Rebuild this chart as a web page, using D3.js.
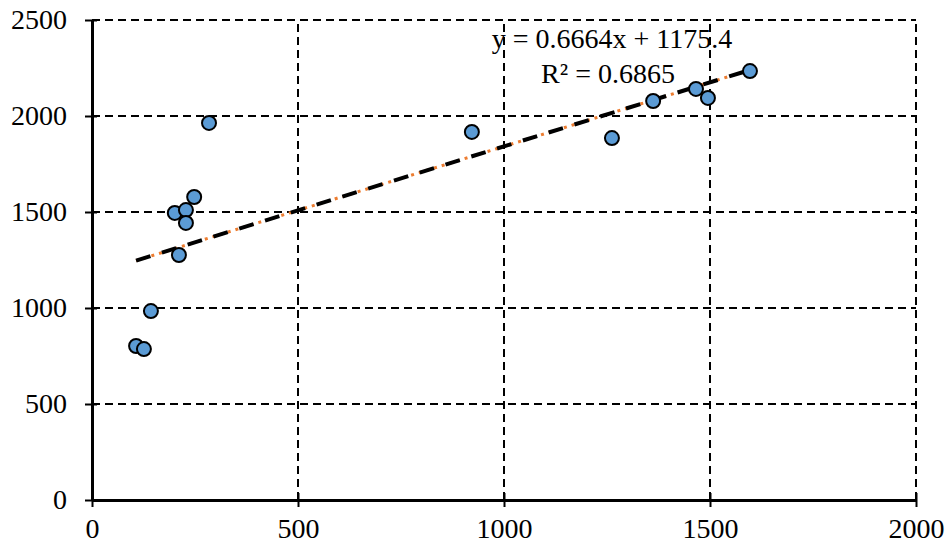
<!DOCTYPE html>
<html><head><meta charset="utf-8">
<script src="https://cdn.jsdelivr.net/npm/d3@7"></script>
<style>body{margin:0;background:#fff}svg{display:block}</style>
</head><body>
<svg id="chart" width="949" height="551"></svg>
<script>
const xValues = [107, 126, 143, 201, 211, 228, 228, 248, 284, 922, 1262, 1362, 1466, 1495, 1597];
const yValues = [802, 786, 984, 1495, 1276, 1510, 1443, 1578, 1964, 1917, 1885, 2078, 2141, 2094, 2234];
const xTicks = [0, 500, 1000, 1500, 2000];
const yTicks = [0, 500, 1000, 1500, 2000, 2500];
const slope = 0.6664, intercept = 1175.4;
const eqLabel = "y = 0.6664x + 1175.4";
const r2Label = "R² = 0.6865";

const svg = d3.select("#chart");
const font = "'Liberation Serif','Times New Roman',serif";
const x = d3.scaleLinear().domain([0, 2000]).range([92, 916]);
const y = d3.scaleLinear().domain([0, 2500]).range([500, 20]);

// grid
svg.append("g").selectAll("line").data(yTicks.filter(d => d > 0)).join("line")
  .attr("x1", x(0)).attr("x2", x(2000)).attr("y1", d => y(d)).attr("y2", d => y(d))
  .attr("stroke", "#000").attr("stroke-width", 2).attr("stroke-dasharray", "8,5");
svg.append("g").selectAll("line").data(xTicks.filter(d => d > 0)).join("line")
  .attr("y1", y(0)).attr("y2", y(2500)).attr("x1", d => x(d)).attr("x2", d => x(d))
  .attr("stroke", "#000").attr("stroke-width", 2).attr("stroke-dasharray", "8,5");

// axes
const fmt = d3.format("d");
const xAxis = svg.append("g").attr("transform", `translate(0,${y(0)})`)
  .call(d3.axisBottom(x).tickValues(xTicks).tickFormat(fmt).tickSize(0).tickPadding(18));
const yAxis = svg.append("g").attr("transform", `translate(${x(0)},0)`)
  .call(d3.axisLeft(y).tickValues(yTicks).tickFormat(fmt).tickSize(0).tickPadding(25));
[xAxis, yAxis].forEach(a => {
  a.select(".domain").attr("stroke", "#000").attr("stroke-width", 3);
  a.selectAll("text").attr("font-family", font).attr("font-size", 28).attr("fill", "#000");
});
xAxis.selectAll(".tick").append("line").attr("y1", -7).attr("y2", 7).attr("stroke", "#000").attr("stroke-width", 2);
yAxis.selectAll(".tick").append("line").attr("x1", -7).attr("x2", 5).attr("stroke", "#000").attr("stroke-width", 2);
xAxis.selectAll(".tick text").attr("dy", "0.71em");

// trendline
const xMin = d3.min(xValues), xMax = d3.max(xValues);
const trend = [xMin, xMax].map(v => [x(v), y(slope * v + intercept)]);
svg.append("path").attr("d", d3.line()(trend)).attr("stroke", "#ED7D31").attr("stroke-width", 3)
  .attr("stroke-dasharray", "3,5").attr("fill", "none");
svg.append("path").attr("d", d3.line()(trend)).attr("stroke", "#000").attr("stroke-width", 4)
  .attr("stroke-dasharray", "15,12").attr("fill", "none");

// points
svg.append("g").selectAll("circle").data(xValues.map((v, i) => [v, yValues[i]])).join("circle")
  .attr("cx", d => x(d[0])).attr("cy", d => y(d[1])).attr("r", 7)
  .attr("fill", "#5B9BD5").attr("stroke", "#000").attr("stroke-width", 2);

// equation
svg.append("text").attr("x", 612).attr("y", 48).attr("text-anchor", "middle")
  .attr("font-family", font).attr("font-size", 28).attr("fill", "#000").text(eqLabel);
svg.append("text").attr("x", 608).attr("y", 83).attr("text-anchor", "middle")
  .attr("font-family", font).attr("font-size", 28).attr("fill", "#000").text(r2Label);
</script>
</body></html>
